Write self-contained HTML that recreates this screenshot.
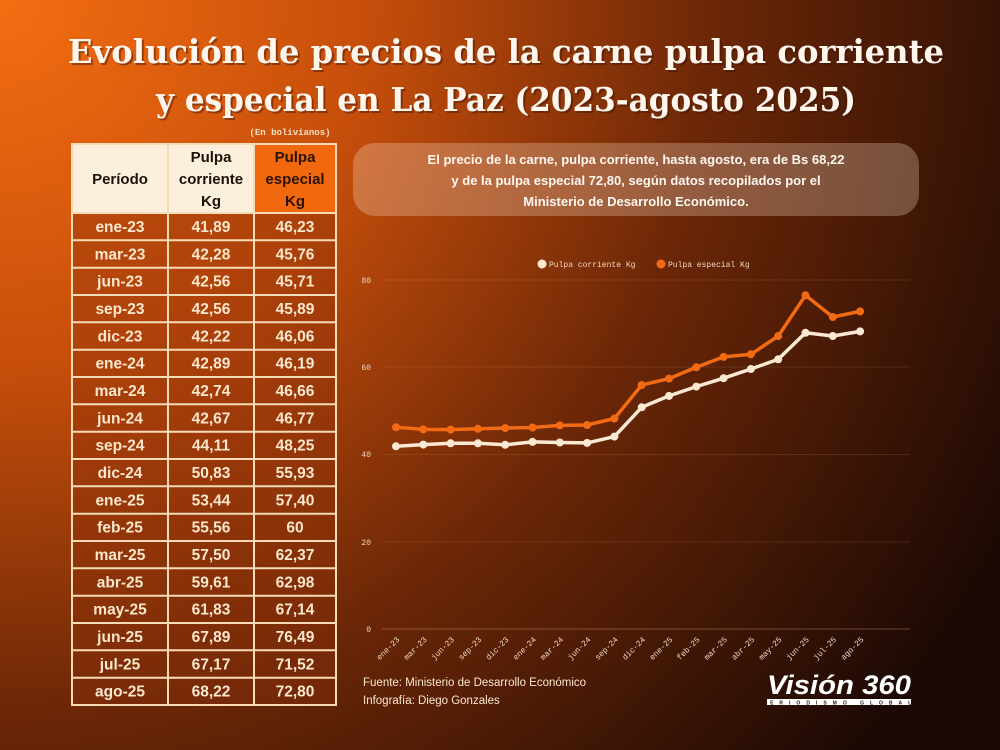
<!DOCTYPE html>
<html><head><meta charset="utf-8"><style>
html,body{margin:0;padding:0;width:1000px;height:750px;overflow:hidden}
</style></head><body>
<svg width="1000" height="750" viewBox="0 0 1000 750" xmlns="http://www.w3.org/2000/svg" font-family="Liberation Sans, DejaVu Sans, sans-serif">
<defs>
<radialGradient id="bg" cx="0" cy="0" r="1150" gradientUnits="userSpaceOnUse">
<stop offset="0" stop-color="#f46e12"/>
<stop offset="0.32" stop-color="#c64e0b"/>
<stop offset="0.62" stop-color="#6c2707"/>
<stop offset="1" stop-color="#1a0804"/>
</radialGradient>
</defs>
<rect width="1000" height="750" fill="url(#bg)"/>
<g font-family="DejaVu Serif, Liberation Serif, serif" font-weight="bold" font-size="33" text-anchor="middle">
<g fill="rgba(60,20,5,0.45)" transform="translate(2,2)">
<text x="506" y="63" textLength="876" lengthAdjust="spacingAndGlyphs">Evolución de precios de la carne pulpa corriente</text>
<text x="506" y="111" textLength="700" lengthAdjust="spacingAndGlyphs">y especial en La Paz (2023-agosto 2025)</text>
</g>
<g fill="#fff7ee">
<text x="506" y="63" textLength="876" lengthAdjust="spacingAndGlyphs">Evolución de precios de la carne pulpa corriente</text>
<text x="506" y="111" textLength="700" lengthAdjust="spacingAndGlyphs">y especial en La Paz (2023-agosto 2025)</text>
</g>
</g>
<text x="290" y="135" font-family="Liberation Mono, monospace" font-weight="bold" font-size="9" fill="#f5e0c8" text-anchor="middle">(En bolivianos)</text>
<!-- table -->
<rect x="72" y="144" width="264" height="561" fill="rgba(140,48,10,0.4)"/>
<rect x="72" y="144" width="182" height="69" fill="#fcefdc"/>
<rect x="254" y="144" width="82" height="69" fill="#f2680f"/>
<g stroke="#f6dcb6" stroke-width="2" fill="none">
<rect x="72" y="144" width="264" height="561"/>
<line x1="168" y1="144" x2="168" y2="705"/><line x1="254" y1="144" x2="254" y2="705"/>
<line x1="72" y1="213" x2="336" y2="213"/>
<line x1="72" y1="240.3" x2="336" y2="240.3"/><line x1="72" y1="267.7" x2="336" y2="267.7"/><line x1="72" y1="295" x2="336" y2="295"/><line x1="72" y1="322.3" x2="336" y2="322.3"/><line x1="72" y1="349.7" x2="336" y2="349.7"/><line x1="72" y1="377" x2="336" y2="377"/><line x1="72" y1="404.3" x2="336" y2="404.3"/><line x1="72" y1="431.7" x2="336" y2="431.7"/><line x1="72" y1="459" x2="336" y2="459"/><line x1="72" y1="486.3" x2="336" y2="486.3"/><line x1="72" y1="513.7" x2="336" y2="513.7"/><line x1="72" y1="541" x2="336" y2="541"/><line x1="72" y1="568.3" x2="336" y2="568.3"/><line x1="72" y1="595.7" x2="336" y2="595.7"/><line x1="72" y1="623" x2="336" y2="623"/><line x1="72" y1="650.3" x2="336" y2="650.3"/><line x1="72" y1="677.7" x2="336" y2="677.7"/>
</g>
<g font-weight="bold" font-size="15" fill="#1e1208" text-anchor="middle">
<text x="120" y="184">Período</text>
<text x="211" y="162">Pulpa</text><text x="211" y="184">corriente</text><text x="211" y="206">Kg</text>
<text x="295" y="162" fill="#2a1206">Pulpa</text><text x="295" y="184" fill="#2a1206">especial</text><text x="295" y="206" fill="#2a1206">Kg</text>
</g>
<g font-weight="bold" font-size="15.5" fill="#fbe7cc" text-anchor="middle">
<text x="120" y="232">ene-23</text><text x="211" y="232">41,89</text><text x="295" y="232">46,23</text>
<text x="120" y="259.3">mar-23</text><text x="211" y="259.3">42,28</text><text x="295" y="259.3">45,76</text>
<text x="120" y="286.7">jun-23</text><text x="211" y="286.7">42,56</text><text x="295" y="286.7">45,71</text>
<text x="120" y="314">sep-23</text><text x="211" y="314">42,56</text><text x="295" y="314">45,89</text>
<text x="120" y="341.3">dic-23</text><text x="211" y="341.3">42,22</text><text x="295" y="341.3">46,06</text>
<text x="120" y="368.7">ene-24</text><text x="211" y="368.7">42,89</text><text x="295" y="368.7">46,19</text>
<text x="120" y="396">mar-24</text><text x="211" y="396">42,74</text><text x="295" y="396">46,66</text>
<text x="120" y="423.3">jun-24</text><text x="211" y="423.3">42,67</text><text x="295" y="423.3">46,77</text>
<text x="120" y="450.7">sep-24</text><text x="211" y="450.7">44,11</text><text x="295" y="450.7">48,25</text>
<text x="120" y="478">dic-24</text><text x="211" y="478">50,83</text><text x="295" y="478">55,93</text>
<text x="120" y="505.3">ene-25</text><text x="211" y="505.3">53,44</text><text x="295" y="505.3">57,40</text>
<text x="120" y="532.7">feb-25</text><text x="211" y="532.7">55,56</text><text x="295" y="532.7">60</text>
<text x="120" y="560">mar-25</text><text x="211" y="560">57,50</text><text x="295" y="560">62,37</text>
<text x="120" y="587.3">abr-25</text><text x="211" y="587.3">59,61</text><text x="295" y="587.3">62,98</text>
<text x="120" y="614.7">may-25</text><text x="211" y="614.7">61,83</text><text x="295" y="614.7">67,14</text>
<text x="120" y="642">jun-25</text><text x="211" y="642">67,89</text><text x="295" y="642">76,49</text>
<text x="120" y="669.3">jul-25</text><text x="211" y="669.3">67,17</text><text x="295" y="669.3">71,52</text>
<text x="120" y="696.7">ago-25</text><text x="211" y="696.7">68,22</text><text x="295" y="696.7">72,80</text>
</g>
<!-- info box -->
<rect x="353" y="143" width="566" height="73" rx="22" fill="rgba(255,230,210,0.28)"/>
<g font-weight="bold" font-size="13" fill="#fff8f0" text-anchor="middle">
<text x="636" y="164">El precio de la carne, pulpa corriente, hasta agosto, era de Bs 68,22</text>
<text x="636" y="185">y de la pulpa especial 72,80, según datos recopilados por el</text>
<text x="636" y="206">Ministerio de Desarrollo Económico.</text>
</g>
<!-- chart -->
<g font-family="Liberation Mono, monospace" font-size="8" fill="#f0d8c0">
<circle cx="542" cy="264" r="4.5" fill="#fbe9d4"/><text x="549" y="267">Pulpa corriente Kg</text>
<circle cx="661" cy="264" r="4.5" fill="#f26a14"/><text x="668" y="267">Pulpa especial Kg</text>
<text x="371" y="283" text-anchor="end">80</text>
<text x="371" y="370" text-anchor="end">60</text>
<text x="371" y="457" text-anchor="end">40</text>
<text x="371" y="545" text-anchor="end">20</text>
<text x="371" y="632" text-anchor="end">0</text>
</g>
<g stroke="rgba(255,200,160,0.12)" stroke-width="1">
<line x1="382" y1="280" x2="910" y2="280"/><line x1="382" y1="367" x2="910" y2="367"/><line x1="382" y1="454.5" x2="910" y2="454.5"/><line x1="382" y1="542" x2="910" y2="542"/>
</g>
<line x1="382" y1="629" x2="910" y2="629" stroke="rgba(255,200,160,0.3)"/>
<polyline fill="none" stroke="#f26a14" stroke-width="3.5" stroke-linejoin="round" points="396,427.3 423.3,429.4 450.6,429.6 477.9,428.8 505.2,428.1 532.5,427.5 559.8,425.4 587.1,425 614.4,418.5 641.7,385 669,378.6 696.3,367.3 723.6,356.9 750.9,354.3 778.2,336.1 805.5,295.3 832.8,317 860.1,311.4"/>
<g fill="#f26a14">
<circle cx="396" cy="427.3" r="4"/><circle cx="423.3" cy="429.4" r="4"/><circle cx="450.6" cy="429.6" r="4"/><circle cx="477.9" cy="428.8" r="4"/><circle cx="505.2" cy="428.1" r="4"/><circle cx="532.5" cy="427.5" r="4"/><circle cx="559.8" cy="425.4" r="4"/><circle cx="587.1" cy="425" r="4"/><circle cx="614.4" cy="418.5" r="4"/><circle cx="641.7" cy="385" r="4"/><circle cx="669" cy="378.6" r="4"/><circle cx="696.3" cy="367.3" r="4"/><circle cx="723.6" cy="356.9" r="4"/><circle cx="750.9" cy="354.3" r="4"/><circle cx="778.2" cy="336.1" r="4"/><circle cx="805.5" cy="295.3" r="4"/><circle cx="832.8" cy="317" r="4"/><circle cx="860.1" cy="311.4" r="4"/>
</g>
<polyline fill="none" stroke="#fbe9d4" stroke-width="3.5" stroke-linejoin="round" points="396,446.3 423.3,444.6 450.6,443.3 477.9,443.3 505.2,444.8 532.5,441.9 559.8,442.5 587.1,442.9 614.4,436.6 641.7,407.3 669,395.9 696.3,386.6 723.6,378.2 750.9,369 778.2,359.3 805.5,332.8 832.8,336 860.1,331.4"/>
<g fill="#fbe9d4">
<circle cx="396" cy="446.3" r="4"/><circle cx="423.3" cy="444.6" r="4"/><circle cx="450.6" cy="443.3" r="4"/><circle cx="477.9" cy="443.3" r="4"/><circle cx="505.2" cy="444.8" r="4"/><circle cx="532.5" cy="441.9" r="4"/><circle cx="559.8" cy="442.5" r="4"/><circle cx="587.1" cy="442.9" r="4"/><circle cx="614.4" cy="436.6" r="4"/><circle cx="641.7" cy="407.3" r="4"/><circle cx="669" cy="395.9" r="4"/><circle cx="696.3" cy="386.6" r="4"/><circle cx="723.6" cy="378.2" r="4"/><circle cx="750.9" cy="369" r="4"/><circle cx="778.2" cy="359.3" r="4"/><circle cx="805.5" cy="332.8" r="4"/><circle cx="832.8" cy="336" r="4"/><circle cx="860.1" cy="331.4" r="4"/>
</g>
<g font-family="Liberation Mono, monospace" font-size="8" fill="#f0d8c0" text-anchor="end">
<text transform="translate(400,640) rotate(-45)">ene-23</text>
<text transform="translate(427.3,640) rotate(-45)">mar-23</text>
<text transform="translate(454.6,640) rotate(-45)">jun-23</text>
<text transform="translate(481.9,640) rotate(-45)">sep-23</text>
<text transform="translate(509.2,640) rotate(-45)">dic-23</text>
<text transform="translate(536.5,640) rotate(-45)">ene-24</text>
<text transform="translate(563.8,640) rotate(-45)">mar-24</text>
<text transform="translate(591.1,640) rotate(-45)">jun-24</text>
<text transform="translate(618.4,640) rotate(-45)">sep-24</text>
<text transform="translate(645.7,640) rotate(-45)">dic-24</text>
<text transform="translate(673,640) rotate(-45)">ene-25</text>
<text transform="translate(700.3,640) rotate(-45)">feb-25</text>
<text transform="translate(727.6,640) rotate(-45)">mar-25</text>
<text transform="translate(754.9,640) rotate(-45)">abr-25</text>
<text transform="translate(782.2,640) rotate(-45)">may-25</text>
<text transform="translate(809.5,640) rotate(-45)">jun-25</text>
<text transform="translate(836.8,640) rotate(-45)">jul-25</text>
<text transform="translate(864.1,640) rotate(-45)">ago-25</text>
</g>
<g font-size="11.5" fill="#fbe7cc">
<text x="363" y="686">Fuente: Ministerio de Desarrollo Económico</text>
<text x="363" y="704">Infografía: Diego Gonzales</text>
</g>
<text x="839" y="694" font-weight="bold" font-style="italic" font-size="27" fill="#ffffff" text-anchor="middle" textLength="144" lengthAdjust="spacingAndGlyphs">Visión 360</text>
<rect x="767" y="699" width="144" height="6" fill="#fff"/>
<text x="839" y="704.5" font-size="5" font-weight="bold" fill="#2a1006" text-anchor="middle" letter-spacing="6">PERIODISMO GLOBAL</text>
</svg>
</body></html>
